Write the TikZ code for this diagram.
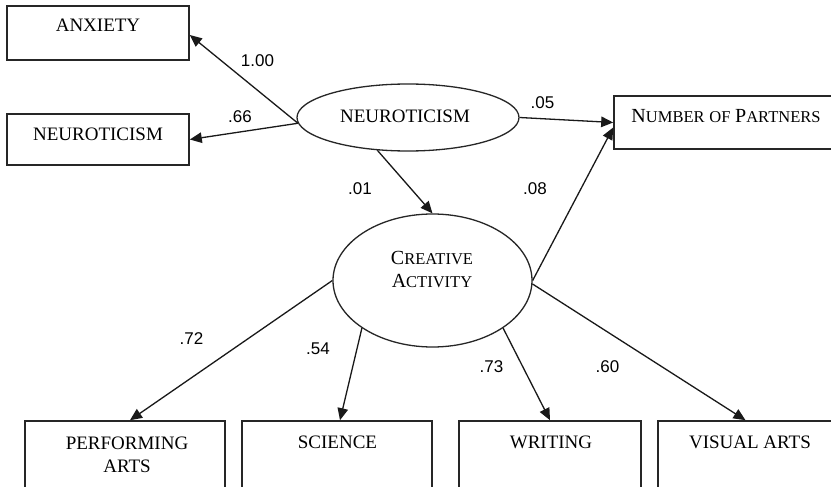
\documentclass[tikz,border=0pt]{standalone}
\usepackage{fontspec}
\setmainfont{Liberation Serif}
\newfontfamily\lblfont{Liberation Sans}
\usetikzlibrary{arrows.meta,shapes.geometric}
\newcommand{\bigsz}{\fontsize{19}{22}\selectfont}
\newcommand{\scbig}{\fontsize{20}{23}\selectfont}
\newcommand{\smsz}{\fontsize{16.5}{19}\selectfont}
\newcommand{\fsc}[2]{{\scbig #1}{\smsz #2}}
\begin{document}
\begin{tikzpicture}[x=1pt,y=-1pt,
  box/.style={draw=black!85, line width=1.6pt, inner sep=0pt, rectangle},
  ell/.style={draw=black!85, line width=1.3pt, inner sep=0pt, ellipse},
  arr/.style={draw=black!90, line width=1.3pt, -{Triangle[length=12pt,width=10.5pt]}},
  txt/.style={inner sep=0pt, anchor=base, font=\bigsz},
  lbl/.style={inner sep=0pt, anchor=base, font=\lblfont\fontsize{17}{20}\selectfont}]
\useasboundingbox (0,0) rectangle (831,487);
\clip (0,0) rectangle (831,487);
\fill[white] (0,0) rectangle (831,487);
% boxes
\node[box, minimum width=182pt, minimum height=54pt] (anx) at (98,33) {};
\node[box, minimum width=182pt, minimum height=51pt] (neubox) at (98,139.5) {};
\node[box, minimum width=219pt, minimum height=53pt] (nop) at (723.5,122.5) {};
\node[box, minimum width=200pt, minimum height=69pt] (pa) at (125,455.5) {};
\node[box, minimum width=190pt, minimum height=69pt] (sci) at (337,455.5) {};
\node[box, minimum width=182pt, minimum height=69pt] (wri) at (550,455.5) {};
\node[box, minimum width=175pt, minimum height=69pt] (vis) at (745.5,455.5) {};
% ellipses
\node[ell, minimum width=222pt, minimum height=67pt] (neu) at (408,117.5) {};
\node[ell, minimum width=199pt, minimum height=133pt] (cre) at (432.5,280.5) {};
% texts
\node[txt] (tanx) at (98,32) {ANXIETY};
\node[txt] (tneubox) at (98,140) {NEUROTICISM};
\node[txt] (tneu) at (405,123) {NEUROTICISM};
\node[txt] (tnop) at (726,123) {\fsc{N}{UMBER} \fsc{}{OF} \fsc{P}{ARTNERS}};
\node[txt] (tcre1) at (432,264) {\fsc{C}{REATIVE}};
\node[txt] (tcre2) at (432,287) {\fsc{A}{CTIVITY}};
\node[txt] (tpa1) at (127,449) {PERFORMING};
\node[txt] (tpa2) at (127,472) {ARTS};
\node[txt] (tsci) at (337.5,448) {SCIENCE};
\node[txt] (twri) at (551,448) {WRITING};
\node[txt] (tvis) at (750,448) {VISUAL ARTS};
% connectors
\draw[arr] (neu.183) -- ([yshift=-2pt]anx.east);
\draw[arr] (neu.183) -- (neubox.east);
\draw[arr] (neu.east) -- (nop.west);
\draw[arr] (neu.227) -- (cre.north);
\draw[arr] (cre.east) -- ([yshift=-5pt]nop.west);
\draw[arr] (cre.west) -- ([xshift=5pt]pa.north);
\draw[arr] (cre.214) -- ([xshift=3pt]sci.north);
\draw[arr] (cre.326) -- (wri.north);
\draw[arr] (cre.358) -- (vis.north);
% labels
\node[lbl] (l1) at (257.5,67) {1.00};
\node[lbl] (l2) at (240,122) {.66};
\node[lbl] (l3) at (542.5,109) {.05};
\node[lbl] (l4) at (360,194) {.01};
\node[lbl] (l5) at (535,194) {.08};
\node[lbl] (l6) at (191.5,344) {.72};
\node[lbl] (l7) at (318,354) {.54};
\node[lbl] (l8) at (491.5,372) {.73};
\node[lbl] (l9) at (607.5,372) {.60};
\end{tikzpicture}
\end{document}
